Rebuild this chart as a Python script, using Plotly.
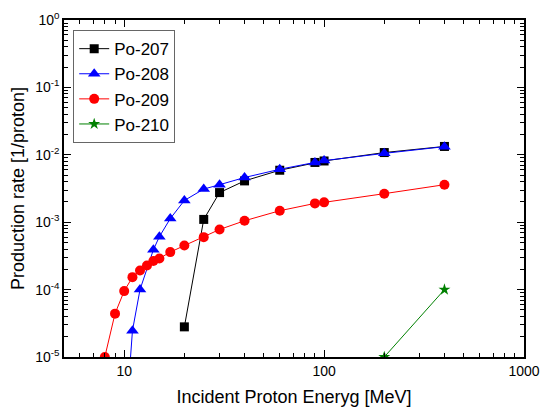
import plotly.graph_objects as go

# Data
po207_x = [20, 25, 30, 40, 60, 90, 100, 200, 400]
po207_y = [2.8e-5, 1.1e-3, 2.75e-3, 4.1e-3, 5.9e-3, 7.7e-3, 8.1e-3, 1.08e-2, 1.33e-2]

po208_x = [10, 11, 12, 14, 15, 17, 20, 25, 30, 40, 60, 90, 100, 200, 400]
po208_y = [5e-7, 2.45e-5, 1.0e-4, 3.9e-4, 6.1e-4, 1.13e-3, 2.1e-3, 3.1e-3, 3.6e-3, 4.6e-3,
           6.1e-3, 7.7e-3, 8.2e-3, 1.05e-2, 1.32e-2]

po209_x = [8, 9, 10, 11, 12, 13, 14, 15, 17, 20, 25, 30, 40, 60, 90, 100, 200, 400]
po209_y = [1.0e-5, 4.4e-5, 9.5e-5, 1.53e-4, 1.92e-4, 2.28e-4, 2.65e-4, 2.9e-4, 3.6e-4,
           4.5e-4, 6.0e-4, 7.8e-4, 1.05e-3, 1.48e-3, 1.9e-3, 1.97e-3, 2.65e-3, 3.6e-3]

po210_x = [200, 400]
po210_y = [1.0e-5, 1.0e-4]

x_tickvals = [10, 100, 1000]
x_ticktext = ["10", "100", "1000"]
y_tickvals = [1e-5, 1e-4, 1e-3, 1e-2, 1e-1, 1]
y_ticktext = ["10<sup>-5</sup>", "10<sup>-4</sup>", "10<sup>-3</sup>",
              "10<sup>-2</sup>", "10<sup>-1</sup>", "10<sup>0</sup>"]

series = [
    ("Po-207", po207_x, po207_y, "black", "square", 9),
    ("Po-208", po208_x, po208_y, "blue", "triangle-up", 11),
    ("Po-209", po209_x, po209_y, "red", "circle", 10),
    ("Po-210", po210_x, po210_y, "green", "star", 9),
]

font_family = "Liberation Sans, Arial, sans-serif"

fig = go.Figure()
for name, xs, ys, color, sym, size in series:
    fig.add_trace(go.Scatter(
        x=xs, y=ys, name=name, mode="lines+markers",
        line=dict(color=color, width=1),
        marker=dict(symbol=sym, size=size, color=color, line=dict(width=0)),
    ))

axis_common = dict(
    type="log", tickmode="array", automargin=False,
    showline=True, linecolor="black", linewidth=1.5, mirror="allticks",
    ticks="inside", ticklen=7, tickwidth=1, tickcolor="black",
    showgrid=False, zeroline=False,
    tickfont=dict(size=14, color="black", family=font_family),
    minor=dict(ticks="inside", ticklen=4, tickwidth=1, tickcolor="black",
               dtick="D1", showgrid=False),
)

fig.update_xaxes(range=[0.69897, 3], tickvals=x_tickvals, ticktext=x_ticktext,
                 title=dict(text="Incident Proton Eneryg [MeV]", font=dict(size=18, family=font_family, color="black"), standoff=14),
                 **axis_common)
fig.update_yaxes(range=[-5, 0], tickvals=y_tickvals, ticktext=y_ticktext,
                 title=dict(text="Production rate [1/proton]", font=dict(size=18, family=font_family, color="black"), standoff=6),
                 **axis_common)

fig.update_layout(
    width=540, height=407,
    margin=dict(l=64, r=16, t=20, b=50),
    paper_bgcolor="white", plot_bgcolor="white",
    font=dict(family=font_family, color="black"),
    legend=dict(x=0.02, y=0.97, xanchor="left", yanchor="top",
                bordercolor="#666666", borderwidth=1, bgcolor="white",
                font=dict(size=17, family=font_family, color="black"),
                tracegroupgap=0),
    showlegend=True,
)

fig.write_html("out.html", config={"displayModeBar": False},
               post_script="document.body.style.margin='0';")
